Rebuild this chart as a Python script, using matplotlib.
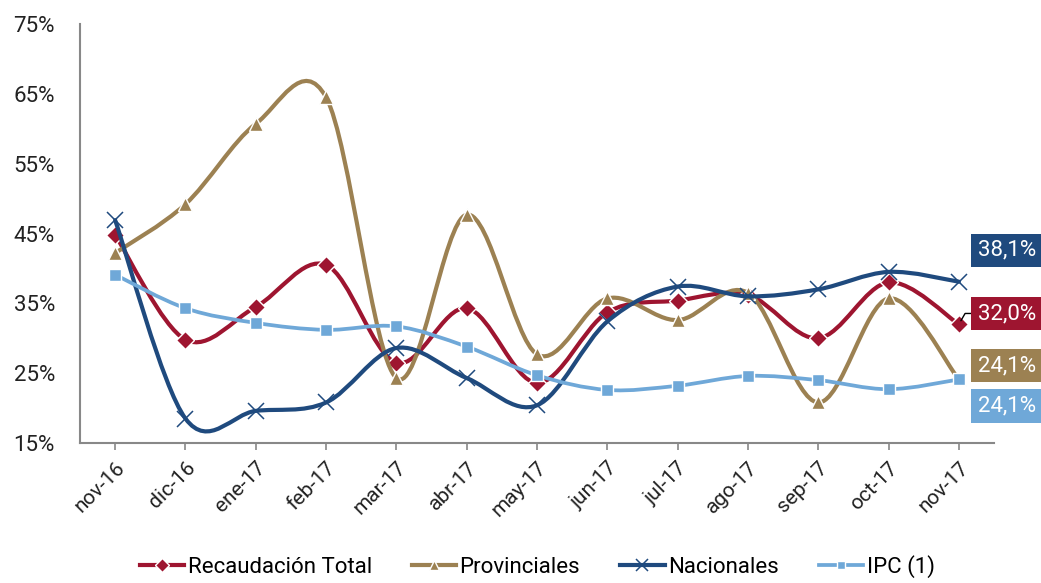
import numpy as np
import matplotlib
matplotlib.use("Agg")
import matplotlib.pyplot as plt
from matplotlib.path import Path
from matplotlib.patches import PathPatch
from matplotlib.lines import Line2D

months = ['nov-16', 'dic-16', 'ene-17', 'feb-17', 'mar-17', 'abr-17', 'may-17',
          'jun-17', 'jul-17', 'ago-17', 'sep-17', 'oct-17', 'nov-17']
recaudacion = [44.8, 29.8, 34.5, 40.5, 26.5, 34.3, 23.6, 33.7, 35.4, 36.2, 30.0, 38.0, 32.0]
provinciales = [42.2, 49.2, 60.7, 64.5, 24.3, 47.7, 27.7, 35.7, 32.6, 36.5, 20.8, 35.7, 24.1]
nacionales = [46.9, 18.5, 19.6, 20.8, 28.6, 24.3, 20.4, 32.4, 37.4, 36.0, 37.0, 39.5, 38.1]
ipc = [39.1, 34.3, 32.2, 31.2, 31.7, 28.8, 24.7, 22.6, 23.2, 24.6, 24.0, 22.7, 24.1]
end_labels = ['38,1%', '32,0%', '24,1%', '24,1%']

plt.rcParams['font.family'] = ['Roboto', 'DejaVu Sans']

c_rec = '#9E1530'
c_prov = '#9C8152'
c_nac = '#1F4A7E'
c_ipc = '#6FA8D8'


def smooth_path(xs, ys):
    # bezier segments like excel's smoothed line
    n = len(xs)
    verts = [(xs[0], ys[0])]
    codes = [Path.MOVETO]
    for i in range(n - 1):
        a = max(i - 1, 0)
        b = min(i + 2, n - 1)
        c1 = (xs[i] + (xs[i + 1] - xs[a]) / 6, ys[i] + (ys[i + 1] - ys[a]) / 6)
        c2 = (xs[i + 1] - (xs[b] - xs[i]) / 6, ys[i + 1] - (ys[b] - ys[i]) / 6)
        verts += [c1, c2, (xs[i + 1], ys[i + 1])]
        codes += [Path.CURVE4] * 3
    return Path(verts, codes)


fig = plt.figure(figsize=(10.41, 5.83), dpi=100)
ax = fig.add_axes([80 / 1041, 140 / 583, 914 / 1041, 419 / 583])
x = np.arange(len(months))

series = [
    (recaudacion, c_rec, 'D', 9, 'white', 1.0, 3.0, 'Recaudación Total'),
    (provinciales, c_prov, '^', 10, 'white', 1.0, 3.0, 'Provinciales'),
    (nacionales, c_nac, 'x', 11, c_nac, 1.1, 3.0, 'Nacionales'),
    (ipc, c_ipc, 's', 8, 'white', 1.0, 2.7, 'IPC (1)'),
]
handles = []
for k, (vals, col, mk, ms, mec, mew, lw, lab) in enumerate(series):
    patch = PathPatch(smooth_path(x, vals), fill=False, edgecolor=col, lw=lw,
                      capstyle='round', joinstyle='round', zorder=2 + k)
    ax.add_patch(patch)
    ax.plot(x, vals, linestyle='none', marker=mk, ms=ms, mfc=col, mec=mec,
            mew=mew, zorder=2 + k)
    handles.append(Line2D([], [], color=col, lw=lw, marker=mk, ms=ms * 0.75,
                          mfc=col, mec=mec, mew=mew, label=lab))

ax.set_xlim(-0.5, 12.5)
ax.set_ylim(15, 75)
ax.set_yticks(np.arange(15, 76, 10))
ax.set_yticklabels([f'{v}%' for v in range(15, 76, 10)], fontsize=16, color='#222222')
ax.set_xticks(x)
ax.set_xticklabels(months, rotation=45, ha='right', rotation_mode='anchor',
                   fontsize=15, color='#222222')
ax.tick_params(axis='y', length=0, pad=18)
ax.tick_params(axis='x', length=5, width=1.2, color='#888888', pad=6)
for s in ['top', 'right']:
    ax.spines[s].set_visible(False)
for s in ['left', 'bottom']:
    ax.spines[s].set_color('#888888')
    ax.spines[s].set_linewidth(1.5)

# value boxes at the end
box_y = [42.6, 33.55, 26.1, 20.3]
box_cols = [c_nac, c_rec, c_prov, c_ipc]
last_vals = [nacionales[-1], recaudacion[-1], provinciales[-1], ipc[-1]]
for lab, by, bc, lv in zip(end_labels, box_y, box_cols, last_vals):
    arrow = None
    if bc == c_rec:
        arrow = dict(arrowstyle='-', color='black', lw=1.0, shrinkA=0, shrinkB=3,
                     connectionstyle='angle,angleA=0,angleB=60,rad=0')
    ax.annotate(lab, xy=(12, lv), xytext=(12.68, by), textcoords='data',
                ha='center', va='center', fontsize=16, color='white',
                bbox=dict(boxstyle='square,pad=0.28', fc=bc, ec='none'),
                arrowprops=arrow, annotation_clip=False, zorder=10)

fig.legend(handles=handles, loc='center', bbox_to_anchor=(0.516, 0.028), ncol=4,
           frameon=False, prop={'size': 16}, handlelength=2.0,
           handletextpad=0.15, columnspacing=1.8)

fig.savefig('out.png', dpi=100)
